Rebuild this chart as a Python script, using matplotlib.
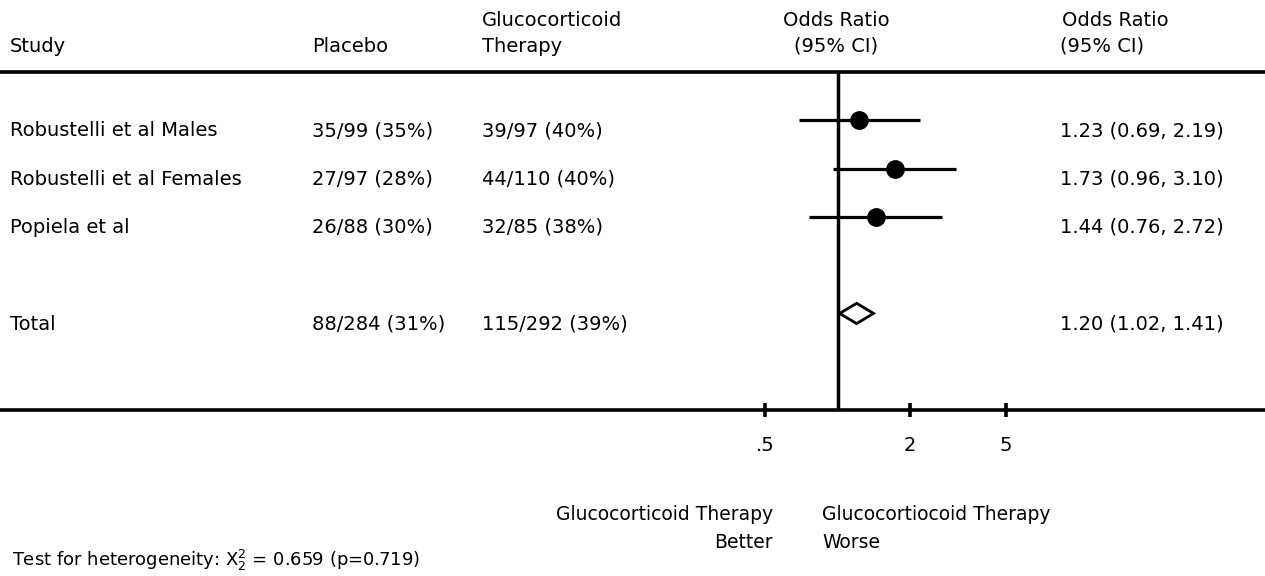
import numpy as np
import matplotlib
matplotlib.use('Agg')
import matplotlib.pyplot as plt

# dados do forest plot
studies = ['Robustelli et al Males', 'Robustelli et al Females', 'Popiela et al']
placebo = ['35/99 (35%)', '27/97 (28%)', '26/88 (30%)']
therapy = ['39/97 (40%)', '44/110 (40%)', '32/85 (38%)']
odds = [1.23, 1.73, 1.44]
ci_low = [0.69, 0.96, 0.76]
ci_high = [2.19, 3.10, 2.72]

total_placebo = '88/284 (31%)'
total_therapy = '115/292 (39%)'
total_or = 1.20
total_low = 1.02
total_high = 1.41

tick_vals = [0.5, 2, 5]
tick_labels = ['.5', '2', '5']

W, H = 1265, 576
fig = plt.figure(figsize=(W / 100, H / 100), dpi=100)
plt.rcParams['font.family'] = 'DejaVu Sans'
FS = 14

# escala log: 0.5 -> px 765, 5 -> px 1006
px_dec = 1006 - 765
lo = 0.5 * 10 ** (-765 / px_dec)
hi = 5 * 10 ** ((W - 1006) / px_dec)

top_px, bot_px = 72, 410
ax = fig.add_axes([0, 1 - bot_px / H, 1, (bot_px - top_px) / H])
ax.set_xscale('log')
ax.set_xlim(lo, hi)
ax.set_ylim(6, -1)

rows = np.arange(len(studies))
total_row = 4

# linhas de IC e pontos
ax.hlines(rows, ci_low, ci_high, color='black', lw=2.3)
ax.plot(odds, rows, 'o', color='black', ms=12.5)

# losango do total
dh = 0.21
ax.fill([total_low, total_or, total_high, total_or],
        [total_row, total_row - dh, total_row, total_row + dh],
        facecolor='white', edgecolor='black', lw=2, zorder=3)

# linha vertical no 1
ax.axvline(1, color='black', lw=2.5)

for s in ['left', 'right']:
    ax.spines[s].set_visible(False)
for s in ['top', 'bottom']:
    ax.spines[s].set_linewidth(2.6)
ax.set_yticks([])
ax.xaxis.set_minor_locator(matplotlib.ticker.NullLocator())
ax.set_xticks(tick_vals)
ax.set_xticklabels(tick_labels, fontsize=FS)
ax.tick_params(axis='x', direction='inout', length=10, width=2.6, pad=14)

# textos das linhas
tr = ax.get_yaxis_transform()
off = 0.22
for i in range(len(studies)):
    y = rows[i] + off
    ax.text(10 / W, y, studies[i], transform=tr, va='center', fontsize=FS)
    ax.text(312 / W, y, placebo[i], transform=tr, va='center', fontsize=FS)
    ax.text(482 / W, y, therapy[i], transform=tr, va='center', fontsize=FS)
    ax.text(1060 / W, y, f'{odds[i]:.2f} ({ci_low[i]:.2f}, {ci_high[i]:.2f})',
            transform=tr, va='center', fontsize=FS)

y = total_row + off
ax.text(10 / W, y, 'Total', transform=tr, va='center', fontsize=FS)
ax.text(312 / W, y, total_placebo, transform=tr, va='center', fontsize=FS)
ax.text(482 / W, y, total_therapy, transform=tr, va='center', fontsize=FS)
ax.text(1060 / W, y, f'{total_or:.2f} ({total_low:.2f}, {total_high:.2f})',
        transform=tr, va='center', fontsize=FS)


def ftext(x, y, s, fs=FS, **kw):
    fig.text(x / W, 1 - y / H, s, fontsize=fs, va='center', **kw)


# cabecalho
ftext(10, 46, 'Study')
ftext(312, 46, 'Placebo')
ftext(482, 21, 'Glucocorticoid')
ftext(482, 46, 'Therapy')
ftext(836, 21, 'Odds Ratio', ha='center')
ftext(836, 46, '(95% CI)', ha='center')
ftext(1062, 21, 'Odds Ratio')
ftext(1060, 46, '(95% CI)')

# rodape
ftext(773, 515, 'Glucocorticoid Therapy', fs=13.5, ha='right')
ftext(773, 543, 'Better', fs=13.5, ha='right')
ftext(822, 515, 'Glucocortiocoid Therapy', fs=13.5)
ftext(822, 543, 'Worse', fs=13.5)
ftext(12, 560, r'Test for heterogeneity: X$_2^2$ = 0.659 (p=0.719)', fs=13)

plt.savefig('out.png', dpi=100)
